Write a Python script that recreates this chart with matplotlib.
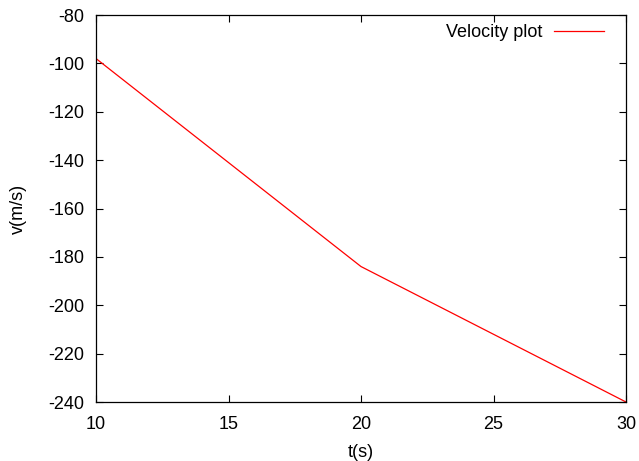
import matplotlib
matplotlib.use("Agg")
import matplotlib.pyplot as plt

# time (s) and velocity (m/s)
t = [10, 20, 30]
v = [-98, -184, -240]

xticks = [10, 15, 20, 25, 30]
yticks = [-80, -100, -120, -140, -160, -180, -200, -220, -240]

plt.rcParams["font.family"] = ["Liberation Sans", "DejaVu Sans"]
plt.rcParams["axes.unicode_minus"] = False
FS = 13

W, H = 639, 461
fig = plt.figure(figsize=(W / 100, H / 100), dpi=100)
ax = fig.add_axes([96 / W, 1 - 402 / H, (626 - 96) / W, (402 - 15) / H])

ax.plot(t, v, color="#ff0000", linewidth=0.9, label="Velocity plot")
ax.set_xlim(10, 30)
ax.set_ylim(-240, -80)
ax.set_xticks(xticks)
ax.set_yticks(yticks)
ax.tick_params(direction="in", top=True, right=True, length=5, width=0.8,
               colors="black", labelsize=FS)
ax.tick_params(axis="y", pad=8.5)
ax.tick_params(axis="x", pad=10)
for s in ax.spines.values():
    s.set_linewidth(0.9)
    s.set_color("black")

ax.set_xlabel("t(s)", fontsize=FS, va="center")
ax.set_ylabel("v(m/s)", fontsize=FS, va="center")
ax.xaxis.set_label_coords(0.5, -(452 - 402) / 387)
ax.yaxis.set_label_coords(-(96 - 18) / 530, 0.5)

leg = ax.legend(loc="upper right", bbox_to_anchor=(0.981, 1.006),
                frameon=False, markerfirst=False,
                handlelength=2.8, handletextpad=0.6, borderaxespad=0.25,
                borderpad=0.4, fontsize=FS)

fig.savefig("out.png", dpi=100)
